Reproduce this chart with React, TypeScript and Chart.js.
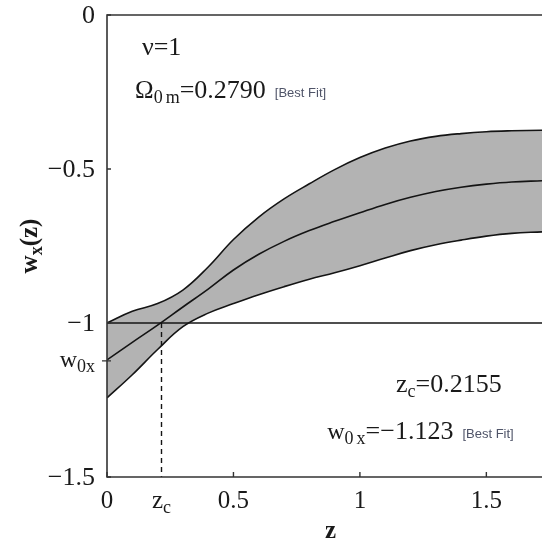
import React, { useEffect, useRef } from "react";
import { Chart, registerables } from "chart.js";

Chart.register(...registerables);

// ---- data ----
const Z = [0, 0.1, 0.2, 0.3, 0.4, 0.5, 0.6, 0.7, 0.8, 0.9, 1.0, 1.1, 1.2, 1.3, 1.4, 1.5, 1.6, 1.72];
const UPPER = [-1.0, -0.962, -0.937, -0.893, -0.818, -0.729, -0.656, -0.597, -0.548, -0.502, -0.463, -0.432, -0.409, -0.394, -0.385, -0.379, -0.376, -0.374];
const MIDDLE = [-1.12, -1.063, -1.007, -0.948, -0.89, -0.828, -0.777, -0.735, -0.7, -0.67, -0.642, -0.615, -0.592, -0.573, -0.559, -0.549, -0.542, -0.538];
const LOWER = [-1.243, -1.168, -1.086, -1.012, -0.968, -0.937, -0.908, -0.882, -0.858, -0.837, -0.814, -0.789, -0.765, -0.746, -0.731, -0.718, -0.709, -0.704];
const X_TICKS = [0, 0.5, 1, 1.5];
const X_TICK_LABELS = ["0", "0.5", "1", "1.5"];
const Y_TICKS = [0, -0.5, -1, -1.5];
const Y_TICK_LABELS = ["0", "\u22120.5", "\u22121", "\u22121.5"];
const Z_C = 0.2155;
const W_0X = -1.123;
const W_REF = -1;
const X_MIN = 0;
const X_MAX = 1.72;
const Y_MIN = -1.5;
const Y_MAX = 0;

const SERIF = '"Liberation Serif", "DejaVu Serif", serif';
const TXT = "#1a1a1a";
const NOTE_COLOR = "#4f5468";

type Run = { text: string; size: number; dy?: number; gap?: number; bold?: boolean; color?: string; sans?: boolean };

function runFont(r: Run) {
  return `${r.bold ? "bold " : ""}${r.size}px ${r.sans ? '"Liberation Sans", Arial, sans-serif' : SERIF}`;
}

function drawRuns(ctx: CanvasRenderingContext2D, runs: Run[], x: number, y: number, align: "left" | "right" | "center") {
  let total = 0;
  const widths = runs.map((r) => {
    ctx.font = runFont(r);
    const w = ctx.measureText(r.text).width + (r.gap || 0);
    total += w;
    return w;
  });
  let cx = align === "right" ? x - total : align === "center" ? x - total / 2 : x;
  ctx.textAlign = "left";
  ctx.textBaseline = "alphabetic";
  runs.forEach((r, i) => {
    ctx.font = runFont(r);
    ctx.fillStyle = r.color || TXT;
    ctx.fillText(r.text, cx, y + (r.dy || 0));
    cx += widths[i];
  });
}

const framePlugin = {
  id: "framePlugin",
  afterDraw(chart: any) {
    const ctx: CanvasRenderingContext2D = chart.ctx;
    const xs = chart.scales.x;
    const ys = chart.scales.y;
    const a = chart.chartArea;
    ctx.save();
    // frame
    ctx.strokeStyle = "#333";
    ctx.lineWidth = 1.6;
    ctx.beginPath();
    ctx.moveTo(a.right, a.top);
    ctx.lineTo(a.left, a.top);
    ctx.lineTo(a.left, a.bottom);
    ctx.lineTo(a.right, a.bottom);
    ctx.stroke();
    // inward ticks
    ctx.lineWidth = 1.4;
    ctx.beginPath();
    X_TICKS.forEach((v) => {
      const px = xs.getPixelForValue(v);
      ctx.moveTo(px, a.bottom);
      ctx.lineTo(px, a.bottom - 5);
    });
    Y_TICKS.forEach((v) => {
      const py = ys.getPixelForValue(v);
      ctx.moveTo(a.left, py);
      ctx.lineTo(a.left + 4, py);
    });
    const pw = ys.getPixelForValue(W_0X);
    ctx.moveTo(a.left - 5, pw);
    ctx.lineTo(a.left + 4, pw);
    ctx.stroke();

    // y tick labels
    const yLabX = a.left - 12;
    Y_TICKS.forEach((v, i) => {
      drawRuns(ctx, [{ text: Y_TICK_LABELS[i], size: 26 }], yLabX, ys.getPixelForValue(v) + 8, "right");
    });
    drawRuns(
      ctx,
      [
        { text: "w", size: 24 },
        { text: "0", size: 18, dy: 5 },
        { text: "x", size: 18, dy: 5 },
      ],
      yLabX,
      pw + 6,
      "right"
    );
    // x tick labels
    const xLabY = a.bottom + 31;
    X_TICKS.forEach((v, i) => {
      drawRuns(ctx, [{ text: X_TICK_LABELS[i], size: 25 }], xs.getPixelForValue(v), xLabY, "center");
    });
    drawRuns(
      ctx,
      [
        { text: "z", size: 25 },
        { text: "c", size: 18, dy: 5 },
      ],
      xs.getPixelForValue(Z_C),
      xLabY,
      "center"
    );
    // axis titles
    drawRuns(ctx, [{ text: "z", size: 25, bold: true }], (a.left + a.right) / 2 + 6, a.bottom + 61, "center");
    ctx.save();
    ctx.translate(37, (a.top + a.bottom) / 2);
    ctx.rotate(-Math.PI / 2);
    drawRuns(
      ctx,
      [
        { text: "w", size: 25, bold: true },
        { text: "x", size: 18, dy: 5, bold: true },
        { text: "(z)", size: 25, bold: true },
      ],
      0,
      0,
      "center"
    );
    ctx.restore();

    // annotations (anchored in data coordinates)
    const P = (zz: number, ww: number) => [xs.getPixelForValue(zz), ys.getPixelForValue(ww)];
    let [px, py] = P(0.138, -0.13);
    drawRuns(ctx, [{ text: "\u03bd=1", size: 26 }], px, py, "left");
    [px, py] = P(0.111, -0.268);
    drawRuns(
      ctx,
      [
        { text: "\u03a9", size: 25 },
        { text: "0", size: 18, dy: 5, gap: 3 },
        { text: "m", size: 18, dy: 5 },
        { text: "=0.2790", size: 26, gap: 9 },
        { text: "[Best Fit]", size: 13, sans: true, color: NOTE_COLOR, dy: -1 },
      ],
      px,
      py,
      "left"
    );
    [px, py] = P(1.143, -1.225);
    drawRuns(
      ctx,
      [
        { text: "z", size: 26 },
        { text: "c", size: 18, dy: 5 },
        { text: "=0.2155", size: 26 },
      ],
      px,
      py,
      "left"
    );
    [px, py] = P(0.871, -1.378);
    drawRuns(
      ctx,
      [
        { text: "w", size: 24 },
        { text: "0", size: 18, dy: 5, gap: 3 },
        { text: "x", size: 18, dy: 5 },
        { text: "=\u22121.123", size: 26, gap: 9 },
        { text: "[Best Fit]", size: 13, sans: true, color: NOTE_COLOR, dy: -1 },
      ],
      px,
      py,
      "left"
    );
    ctx.restore();
  },
};

export default function App() {
  const ref = useRef<HTMLCanvasElement | null>(null);
  useEffect(() => {
    if (!ref.current) return;
    const pts = (ys: number[]) => Z.map((z, i) => ({ x: z, y: ys[i] }));
    const line = { borderColor: "#141414", borderWidth: 1.6, pointRadius: 0, tension: 0.4 };
    const chart = new Chart(ref.current, {
      type: "line",
      data: {
        datasets: [
          { ...line, data: pts(UPPER), fill: 2, backgroundColor: "#b3b3b3" },
          { ...line, data: pts(MIDDLE), fill: false },
          { ...line, data: pts(LOWER), fill: false },
          {
            borderColor: "#141414",
            borderWidth: 1.4,
            pointRadius: 0,
            fill: false,
            data: [
              { x: X_MIN, y: W_REF },
              { x: X_MAX, y: W_REF },
            ],
          },
          {
            borderColor: "#141414",
            borderWidth: 1.4,
            pointRadius: 0,
            fill: false,
            borderDash: [5, 4],
            data: [
              { x: Z_C, y: W_REF },
              { x: Z_C, y: Y_MIN },
            ],
          },
        ],
      },
      options: {
        responsive: false,
        animation: false,
        devicePixelRatio: 1,
        layout: { padding: { left: 107, top: 15, right: 0, bottom: 67 } },
        plugins: {
          legend: { display: false },
          tooltip: { enabled: false },
          filler: { drawTime: "beforeDatasetsDraw" },
        },
        scales: {
          x: { type: "linear", min: X_MIN, max: X_MAX, display: false },
          y: { type: "linear", min: Y_MIN, max: Y_MAX, display: false },
        },
      },
      plugins: [framePlugin],
    });
    return () => chart.destroy();
  }, []);
  return (
    <div style={{ position: "fixed", left: 0, top: 0, width: 542, height: 544, background: "#fff" }}>
      <canvas ref={ref} width={542} height={544} style={{ display: "block" }} />
    </div>
  );
}
